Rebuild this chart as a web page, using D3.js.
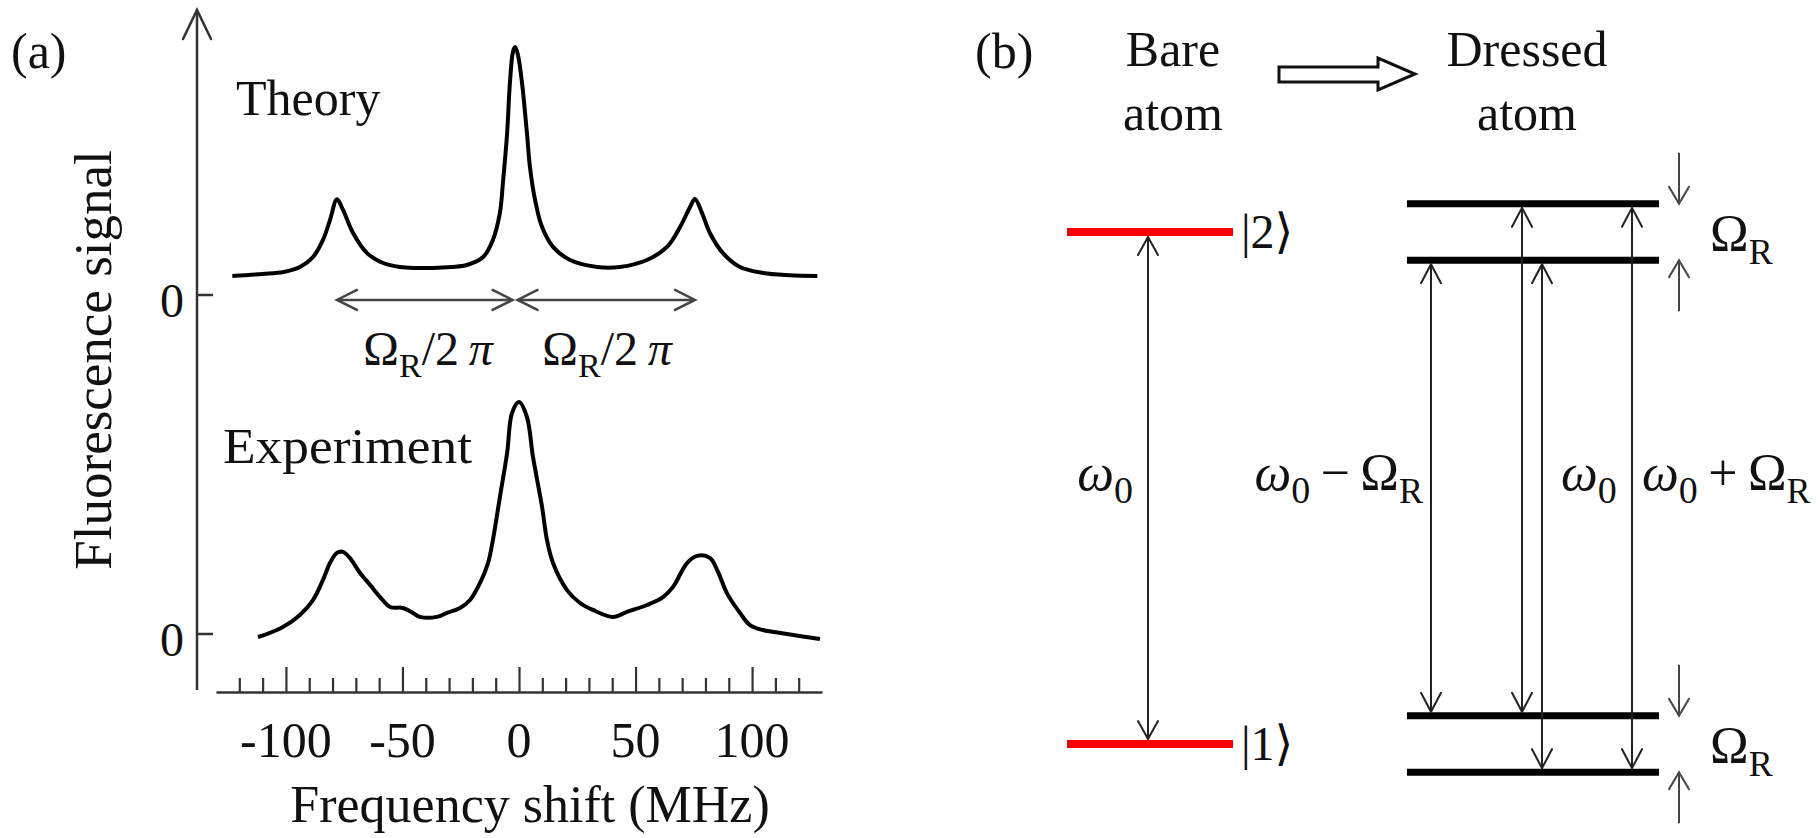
<!DOCTYPE html>
<html><head><meta charset="utf-8">
<script src="https://cdn.jsdelivr.net/npm/d3@7"></script>
<style>html,body{margin:0;padding:0;background:#fff;} svg{display:block;}</style>
</head><body>
<script>
// ---------------- DATA ----------------
// Panel (a): frequency shift (MHz) and fluorescence signal (a.u., theory peak = 100)
const theoryFreq   = [-123, -110, -101, -94, -88.4, -84.1, -81.1, -78.1, -75.5, -71.2, -65.2, -58.3, -51.1, -44, -36.9, -29, -22.3, -15.4, -11.2, -8.2, -6.9, -5.1, -3.9, -2.6, -1.7, -0.5, 1.3, 3.4, 4.7, 6.9, 9.9, 14.6, 21.9, 33.5, 43.3, 54.9, 63.5, 69.1, 73.4, 75.5, 78.5, 81.9, 87.5, 94.8, 104.7, 116, 128];
const theorySignal = [7.7, 8.5, 9.3, 11.3, 15.3, 22.2, 30.2, 38.6, 34.3, 25.0, 16.9, 12.9, 11.3, 10.9, 10.9, 11.3, 12.1, 15.3, 22.2, 33.1, 45.2, 65.3, 85.5, 98, 100, 97, 85.5, 65.3, 51.6, 38.3, 27.4, 19.4, 14.1, 11.3, 11.3, 14.1, 19.4, 27.4, 35.5, 38.7, 33.1, 25.0, 16.9, 11.3, 8.9, 8.0, 7.7];

const expFreq   = [-112, -108.1, -101.3, -94, -88.4, -84.1, -81.1, -78.1, -75.5, -72.5, -68.2, -63.9, -59.6, -55.3, -49.8, -45.5, -42.5, -35.2, -30.9, -25.3, -21, -16.7, -13.3, -11.2, -8.2, -5.1, -3, 0, 3.4, 6, 9.9, 12, 14.6, 20.6, 26.2, 31.7, 40.3, 46.3, 54.9, 61.8, 66.1, 72.1, 76.4, 82, 85.4, 89.2, 94.8, 99.1, 104.7, 115, 129.1];
const expSignal = [-1.2, 0, 2.8, 7.7, 13.7, 21.8, 28.6, 32.7, 33.1, 30.6, 24.6, 19.8, 14.9, 10.9, 10.5, 8.5, 6.9, 6.9, 8.5, 10.5, 13.7, 20.6, 28.6, 37.9, 55.2, 73.0, 89.1, 93.5, 87.5, 71.4, 51.2, 37.9, 28.6, 17.7, 12.5, 9.7, 6.9, 8.9, 11.7, 14.9, 19.0, 28.6, 31.5, 30.6, 25.0, 16.5, 8.5, 3.6, 1.6, 0, -2.0];

const xMajorTicks = [-100, -50, 0, 50, 100];
const xMinorTicks = [-120, -110, -90, -80, -70, -60, -40, -30, -20, -10, 10, 20, 30, 40, 60, 70, 80, 90, 110, 120];
const xTickLabels = ["-100", "-50", "0", "50", "100"];
const yTickLabels = ["0", "0"];

// Rabi splitting markers on the theory trace (MHz): centre peak and sidebands
const rabiCentre = -1.7;
const rabiSidebands = [-78.1, 75.5];

// Panel (b): energies (units with omega0 = 100, OmegaR = 11)
const omega0 = 100;
const omegaR = 11;
const bareLevels = [ {label: "|1\u27E9", energy: 0}, {label: "|2\u27E9", energy: 100} ];
const dressedLevels = [100 + 5.5, 100 - 5.5, 5.5, -5.5];
const transitions = [
  {upper: 94.5,  lower: 5.5,  label: "minus"},
  {upper: 105.5, lower: 5.5,  label: "none"},
  {upper: 94.5,  lower: -5.5, label: "zero"},
  {upper: 105.5, lower: -5.5, label: "plus"}
];

// ---------------- DRAWING ----------------
const W = 1820, H = 838;
const FONT = "'Liberation Serif','Times New Roman',Times,serif";
const svg = d3.select("body").append("svg").attr("width", W).attr("height", H)
  .style("font-family", FONT).attr("fill", "#111");
svg.append("rect").attr("width", W).attr("height", H).attr("fill", "#fff");

function vHead(g, tx, ty, dx, dy, len, half, color, sw) {
  const px = -dy, py = dx;
  const bx = tx - dx * len, by = ty - dy * len;
  g.append("path")
    .attr("d", `M${bx + px * half},${by + py * half}L${tx},${ty}L${bx - px * half},${by - py * half}`)
    .attr("fill", "none").attr("stroke", color).attr("stroke-width", sw)
    .attr("stroke-linejoin", "miter").attr("stroke-linecap", "round");
}

// ---- Panel (a)
const x = d3.scaleLinear().domain([-130, 130]).range([216, 822]);
const yTheory = d3.scaleLinear().domain([0, 100]).range([295, 47]);
const yExp = d3.scaleLinear().domain([0, 100]).range([634, 386]);
const gA = svg.append("g");
const axisColor = "#333";

// y axis with arrow
gA.append("line").attr("x1", 197).attr("x2", 197).attr("y1", 690).attr("y2", 11)
  .attr("stroke", axisColor).attr("stroke-width", 2.5);
vHead(gA, 197, 10, 0, -1, 29, 14, axisColor, 2.5);

// zero ticks
[yTheory, yExp].forEach((s, i) => {
  gA.append("line").attr("x1", 197).attr("x2", 213).attr("y1", s(0)).attr("y2", s(0))
    .attr("stroke", axisColor).attr("stroke-width", 2.5);
  gA.append("text").attr("x", 184).attr("y", s(0) + 22).attr("text-anchor", "end")
    .attr("font-size", 48).text(yTickLabels[i]);
});

// x axis
const gX = gA.append("g").attr("transform", "translate(0,692)");
gX.call(d3.axisTop(x).tickValues(xMajorTicks).tickSize(25).tickSizeOuter(0).tickFormat(""));
const gXm = gA.append("g").attr("transform", "translate(0,692)");
gXm.call(d3.axisTop(x).tickValues(xMinorTicks).tickSize(14).tickSizeOuter(0).tickFormat(""));
gXm.select(".domain").remove();
gA.selectAll(".domain").attr("stroke", axisColor).attr("stroke-width", 2.5);
gA.selectAll(".tick line").attr("stroke", axisColor).attr("stroke-width", 2.2);
xMajorTicks.forEach((t, i) => {
  gA.append("text").attr("x", x(t)).attr("y", 757).attr("text-anchor", "middle")
    .attr("font-size", 50).text(xTickLabels[i]);
});

// axis titles
gA.append("text").attr("x", 530).attr("y", 822).attr("text-anchor", "middle")
  .attr("font-size", 52).text("Frequency shift (MHz)");
gA.append("text").attr("transform", "translate(111,360) rotate(-90)")
  .attr("text-anchor", "middle").attr("font-size", 53).text("Fluorescence signal");

// curves
const theoryData = theoryFreq.map((f, i) => ({f, v: theorySignal[i]}));
const expData = expFreq.map((f, i) => ({f, v: expSignal[i]}));
gA.append("path").datum(theoryData)
  .attr("d", d3.line().x(d => x(d.f)).y(d => yTheory(d.v)).curve(d3.curveCatmullRom.alpha(0.5)))
  .attr("fill", "none").attr("stroke", "#000").attr("stroke-width", 4).attr("stroke-linejoin", "round");
gA.append("path").datum(expData)
  .attr("d", d3.line().x(d => x(d.f)).y(d => yExp(d.v)).curve(d3.curveCatmullRom.alpha(0.5)))
  .attr("fill", "none").attr("stroke", "#000").attr("stroke-width", 4).attr("stroke-linejoin", "round");

// Rabi arrows
const rabiY = yTheory(-2);
const rabiColor = "#444";
rabiSidebands.forEach(sb => {
  const a = Math.min(sb, rabiCentre), b = Math.max(sb, rabiCentre);
  const xa = x(a) + (sb < rabiCentre ? 0 : 2.5), xb = x(b) - (sb < rabiCentre ? 2.5 : 0);
  gA.append("line").attr("x1", xa).attr("x2", xb).attr("y1", rabiY).attr("y2", rabiY)
    .attr("stroke", rabiColor).attr("stroke-width", 2.5);
  vHead(gA, xa, rabiY, -1, 0, 20, 10, rabiColor, 2.5);
  vHead(gA, xb, rabiY, 1, 0, 20, 10, rabiColor, 2.5);
  const lbl = gA.append("text").attr("x", (x(a) + x(b)) / 2 + 2).attr("y", 365)
    .attr("text-anchor", "middle").attr("font-size", 48);
  lbl.append("tspan").text("\u03A9");
  lbl.append("tspan").attr("font-size", 34).attr("dy", 12).text("R");
  lbl.append("tspan").attr("dy", -12).text("/2\u2009");
  lbl.append("tspan").attr("font-style", "italic").text("\u03C0");
});

// annotations
gA.append("text").attr("x", 11).attr("y", 68).attr("font-size", 50).text("(a)");
gA.append("text").attr("x", 236).attr("y", 115).attr("font-size", 50).text("Theory");
gA.append("text").attr("x", 223).attr("y", 463).attr("font-size", 50)
  .attr("textLength", 249).attr("lengthAdjust", "spacingAndGlyphs").text("Experiment");

// ---- Panel (b)
const gB = svg.append("g");
const yE = d3.scaleLinear().domain([0, 100]).range([744, 232]);
gB.append("text").attr("x", 975).attr("y", 68).attr("font-size", 50).text("(b)");
[["Bare", 66], ["atom", 130]].forEach(([t, yy]) =>
  gB.append("text").attr("x", 1173).attr("y", yy).attr("text-anchor", "middle").attr("font-size", 50).text(t));
[["Dressed", 66], ["atom", 130]].forEach(([t, yy]) =>
  gB.append("text").attr("x", 1527).attr("y", yy).attr("text-anchor", "middle").attr("font-size", 50).text(t));

// hollow arrow
const hollow = [[1279, 67], [1378, 67], [1378, 58], [1415, 74], [1378, 90], [1378, 82], [1279, 82]];
gB.append("path").attr("d", d3.line()(hollow) + "Z").attr("fill", "#fff")
  .attr("stroke", "#111").attr("stroke-width", 3).attr("stroke-linejoin", "miter");

// bare levels
const arrowColor = "#222";
bareLevels.forEach(l => {
  gB.append("line").attr("x1", 1067).attr("x2", 1233).attr("y1", yE(l.energy)).attr("y2", yE(l.energy))
    .attr("stroke", "#ff0000").attr("stroke-width", 8);
  gB.append("text").attr("x", 1241).attr("y", yE(l.energy) + 16).attr("font-size", 48)
    .style("font-family", "'Liberation Serif','DejaVu Serif',serif").text(l.label);
});
const bx = 1148;
gB.append("line").attr("x1", bx).attr("x2", bx).attr("y1", yE(omega0) + 5).attr("y2", yE(0) - 5)
  .attr("stroke", arrowColor).attr("stroke-width", 2);
vHead(gB, bx, yE(omega0) + 5, 0, -1, 18, 10, arrowColor, 2);
vHead(gB, bx, yE(0) - 5, 0, 1, 18, 10, arrowColor, 2);

function omegaLabel(g, xx, yy, anchor, rest) {
  const t = g.append("text").attr("x", xx).attr("y", yy).attr("text-anchor", anchor).attr("font-size", 52);
  t.append("tspan").attr("font-style", "italic").text("\u03C9");
  t.append("tspan").attr("font-size", 38).attr("dy", 13).text("0");
  if (rest) {
    t.append("tspan").attr("dy", -13).text(rest === "minus" ? "\u2009\u2212\u2009" : "\u2009+\u2009");
    t.append("tspan").text("\u03A9");
    t.append("tspan").attr("font-size", 36).attr("dy", 13).text("R");
  }
}
omegaLabel(gB, 1133, 490, "end", null);

// dressed levels
dressedLevels.forEach(e => {
  gB.append("line").attr("x1", 1407).attr("x2", 1659).attr("y1", yE(e)).attr("y2", yE(e))
    .attr("stroke", "#000").attr("stroke-width", 7);
});
const transX = [1431, 1522, 1542, 1632];
transitions.forEach((tr, i) => {
  const xx = transX[i];
  const y1 = yE(tr.upper) + 4, y2 = yE(tr.lower) - 4;
  gB.append("line").attr("x1", xx).attr("x2", xx).attr("y1", y1).attr("y2", y2)
    .attr("stroke", arrowColor).attr("stroke-width", 2);
  vHead(gB, xx, y1, 0, -1, 19, 10, arrowColor, 2);
  vHead(gB, xx, y2, 0, 1, 19, 10, arrowColor, 2);
});
omegaLabel(gB, 1423, 490, "end", "minus");
omegaLabel(gB, 1561, 490, "start", null);
omegaLabel(gB, 1642, 490, "start", "plus");

// Omega_R splitting markers
const smallColor = "#444";
[[dressedLevels[0], dressedLevels[1]], [dressedLevels[2], dressedLevels[3]]].forEach(([hi, lo]) => {
  const yh = yE(hi), yl = yE(lo);
  gB.append("line").attr("x1", 1679).attr("x2", 1679).attr("y1", yh - 51).attr("y2", yh)
    .attr("stroke", smallColor).attr("stroke-width", 2);
  vHead(gB, 1679, yh, 0, 1, 17, 10, smallColor, 2);
  gB.append("line").attr("x1", 1679).attr("x2", 1679).attr("y1", yl + 51).attr("y2", yl)
    .attr("stroke", smallColor).attr("stroke-width", 2);
  vHead(gB, 1679, yl, 0, -1, 17, 10, smallColor, 2);
  const t = gB.append("text").attr("x", 1710).attr("y", (yh + yl) / 2 + 19).attr("font-size", 52);
  t.append("tspan").text("\u03A9");
  t.append("tspan").attr("font-size", 36).attr("dy", 13).text("R");
});
</script>
</body></html>
